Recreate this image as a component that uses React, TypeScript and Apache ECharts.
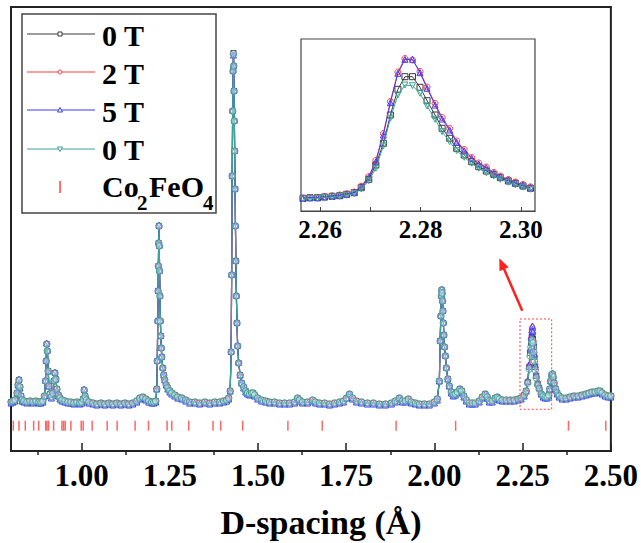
import React, { useEffect, useRef } from "react";
import * as echarts from "echarts";

// ---------- main pattern (d-spacing in Å, intensity in arbitrary units) ----------
const mainD = [
  0.8000,0.8057,0.8113,0.8170,0.8198,0.8226,0.8255,0.8283,0.8311,0.8368,
  0.8453,0.8538,0.8623,0.8707,0.8792,0.8849,0.8905,0.8948,0.8976,0.8996,
  0.9013,0.9033,0.9053,0.9075,0.9104,0.9146,0.9188,0.9217,0.9245,0.9273,
  0.9302,0.9344,0.9387,0.9443,0.9528,0.9613,0.9698,0.9783,0.9868,0.9952,
  1.0009,1.0046,1.0074,1.0102,1.0136,1.0207,1.0320,1.0434,1.0547,1.0660,
  1.0773,1.0886,1.0999,1.1113,1.1226,1.1339,1.1452,1.1565,1.1650,1.1735,
  1.1820,1.1905,1.1990,1.2046,1.2103,1.2131,1.2145,1.2160,1.2168,1.2177,
  1.2185,1.2194,1.2202,1.2211,1.2222,1.2233,1.2245,1.2259,1.2273,1.2301,
  1.2329,1.2358,1.2400,1.2443,1.2499,1.2556,1.2641,1.2726,1.2839,1.2952,
  1.3065,1.3207,1.3348,1.3490,1.3631,1.3772,1.3914,1.4027,1.4112,1.4169,
  1.4211,1.4239,1.4253,1.4268,1.4282,1.4293,1.4304,1.4313,1.4321,1.4330,
  1.4338,1.4350,1.4361,1.4372,1.4387,1.4404,1.4423,1.4452,1.4494,1.4537,
  1.4593,1.4650,1.4706,1.4763,1.4819,1.4862,1.4904,1.4989,1.5102,1.5216,
  1.5329,1.5470,1.5612,1.5753,1.5895,1.6036,1.6121,1.6178,1.6263,1.6404,
  1.6546,1.6630,1.6744,1.6885,1.7027,1.7168,1.7310,1.7423,1.7508,1.7593,
  1.7677,1.7791,1.7932,1.8102,1.8272,1.8441,1.8611,1.8781,1.8894,1.9007,
  1.9092,1.9177,1.9262,1.9347,1.9460,1.9573,1.9715,1.9856,1.9998,2.0082,
  2.0139,2.0162,2.0182,2.0196,2.0207,2.0218,2.0230,2.0241,2.0253,2.0267,
  2.0286,2.0309,2.0337,2.0380,2.0422,2.0479,2.0535,2.0592,2.0649,2.0719,
  2.0776,2.0833,2.0903,2.0988,2.1073,2.1158,2.1271,2.1356,2.1441,2.1497,
  2.1554,2.1639,2.1724,2.1780,2.1837,2.1922,2.2035,2.2148,2.2261,2.2375,
  2.2459,2.2544,2.2601,2.2643,2.2686,2.2714,2.2737,2.2757,2.2776,2.2793,
  2.2813,2.2833,2.2856,2.2884,2.2927,2.2969,2.3026,2.3082,2.3139,2.3195,
  2.3238,2.3266,2.3294,2.3323,2.3345,2.3365,2.3393,2.3436,2.3478,2.3535,
  2.3620,2.3733,2.3846,2.3960,2.4073,2.4186,2.4299,2.4384,2.4469,2.4554,
  2.4638,2.4695,2.4752,2.4837,2.4922,2.5000,
];

const main0T = [
  49,50,51,58,66,71,64,55,51,50,
  49,50,49,50,49,49,50,55,70,90,
  107,100,80,65,57,54,58,70,78,72,
  62,56,53,51,50,49,49,48,49,48,
  49,52,61,55,51,49,48,47,48,47,
  48,47,48,47,48,47,48,50,53,54,
  52,50,49,49,50,62,90,130,160,185,
  208,225,205,180,155,130,115,103,94,83,
  76,71,66,63,60,58,56,54,53,51,
  49,49,48,49,48,49,49,50,51,53,
  60,99,176,275,340,380,398,385,360,330,
  300,262,225,190,155,128,105,88,76,68,
  64,60,58,57,58,58,56,53,51,50,
  49,49,48,48,48,49,53,51,49,49,
  51,49,48,48,47,48,49,50,53,57,
  53,50,49,48,48,47,47,48,50,53,
  50,50,52,49,48,47,47,47,49,52,
  70,110,135,155,161,158,150,140,128,116,
  104,95,83,72,65,59,56,57,59,62,
  60,55,51,48,48,48,50,54,57,54,
  50,50,53,54,52,51,51,51,51,52,
  53,56,60,69,84,98,108,114,116,112,
  104,94,84,75,67,63,57,55,54,54,
  56,62,70,76,77,74,68,62,58,55,
  53,53,54,55,55,56,57,58,59,59,
  60,60,58,56,55,55,
];

const main2T = [
  49,50,51,58,66,71,64,55,51,50,
  49,50,49,50,49,49,50,55,70,90,
  107,100,80,65,57,54,58,70,78,72,
  62,56,53,51,50,49,49,48,49,48,
  49,52,61,55,51,49,48,47,48,47,
  48,47,48,47,48,47,48,50,53,54,
  52,50,49,49,50,62,90,130,160,185,
  208,225,205,180,155,130,115,103,94,83,
  76,71,66,63,60,58,56,54,53,51,
  49,49,48,49,48,49,49,50,51,53,
  60,99,176,275,340,380,396,385,360,330,
  300,262,225,190,155,128,105,88,76,68,
  64,60,58,57,58,58,56,53,51,50,
  49,49,48,48,48,49,53,51,49,49,
  51,49,48,48,47,48,49,50,53,57,
  53,50,49,48,48,47,47,48,50,53,
  50,50,52,49,48,47,47,47,49,52,
  70,110,135,155,161,158,150,140,128,116,
  104,95,83,72,65,59,56,57,59,62,
  60,55,51,48,48,48,50,54,57,54,
  50,50,53,54,52,51,51,51,51,52,
  53,56,60,70,86,101,113,121,124,121,
  110,98,87,77,69,64,58,55,54,54,
  56,62,70,76,77,74,68,62,58,55,
  53,53,54,55,55,56,57,58,59,59,
  60,60,58,56,55,55,
];

const main5T = [
  48,49,50,58,66,72,63,54,50,49,
  48,49,48,49,48,48,49,55,71,91,
  108,101,80,65,56,53,58,71,79,72,
  61,55,52,50,49,48,48,47,48,47,
  48,52,62,55,50,48,47,46,47,46,
  47,46,47,46,47,46,47,49,52,53,
  51,49,48,48,49,62,91,131,161,186,
  209,226,206,181,156,131,116,104,95,84,
  76,71,66,62,59,57,55,53,52,50,
  48,48,47,48,47,48,48,49,50,52,
  60,100,177,276,341,381,396,386,361,331,
  301,263,226,191,156,129,106,89,76,68,
  63,59,57,56,57,57,55,52,50,49,
  48,48,47,47,47,48,52,50,48,48,
  50,48,47,47,46,47,48,49,53,57,
  52,49,48,47,47,46,46,47,49,53,
  49,49,51,48,47,46,46,46,48,51,
  70,111,136,156,162,159,151,141,129,117,
  105,96,84,72,65,58,55,56,58,62,
  59,54,50,47,47,47,49,53,57,53,
  49,49,52,54,51,50,50,50,50,51,
  52,55,60,70,86,102,114,121,125,120,
  109,97,86,77,68,63,57,54,53,53,
  55,62,70,77,78,75,68,61,57,54,
  52,52,53,54,54,55,56,57,58,58,
  59,59,57,55,54,54,
];

const main0Tb = [
  49,50,51,58,66,71,64,55,51,50,
  49,50,49,50,49,49,50,55,70,90,
  107,100,80,65,57,54,58,70,78,72,
  62,56,53,51,50,49,49,48,49,48,
  49,52,61,55,51,49,48,47,48,47,
  48,47,48,47,48,47,48,50,53,54,
  52,50,49,49,50,62,90,130,160,185,
  208,225,205,180,155,130,115,103,94,83,
  76,71,66,63,60,58,56,54,53,51,
  49,49,48,49,48,49,49,50,51,53,
  60,99,176,275,340,380,397,385,360,330,
  300,262,225,190,155,128,105,88,76,68,
  64,60,58,57,58,58,56,53,51,50,
  49,49,48,48,48,49,53,51,49,49,
  51,49,48,48,47,48,49,50,53,57,
  53,50,49,48,48,47,47,48,50,53,
  50,50,52,49,48,47,47,47,49,52,
  70,110,135,155,161,158,150,140,128,116,
  104,95,83,72,65,59,56,57,59,62,
  60,55,51,48,48,48,50,54,57,54,
  50,50,53,54,52,51,51,51,51,52,
  53,56,60,68,82,95,104,109,111,108,
  99,90,81,73,66,62,57,55,54,54,
  56,62,70,76,77,74,68,62,58,55,
  53,53,54,55,55,56,57,58,59,59,
  60,60,58,56,55,55,
];

// Co2FeO4 reflection positions (Å)
const refD = [
  0.8065,0.8226,0.8405,0.8642,0.8784,0.8982,0.9019,0.9067,0.9208,0.9443,
  0.9491,0.9537,0.9698,0.9989,1.0046,1.0301,1.0725,1.1008,1.1517,1.1896,
  1.2423,1.2556,1.3037,1.3725,1.3942,1.4565,1.5847,1.6820,1.8914,2.0600,
  2.3798,2.4856,
];
const refLevel = 25.3;

// ---------- inset (zoom of the 2.28 Å peak) ----------
const inD = [
  2.2566,2.2580,2.2595,2.2609,2.2624,2.2639,2.2653,2.2668,2.2682,2.2697,
  2.2711,2.2726,2.2740,2.2755,2.2769,2.2784,2.2799,2.2813,2.2829,2.2843,
  2.2858,2.2872,2.2887,2.2902,2.2916,2.2931,2.2946,2.2959,2.2975,2.2989,
  2.3004,2.3019,
];
const in0T = [12.7,13.3,13.3,14,14.7,15.3,16.7,18.3,23.3,31.7,46,67.7,96,121.7,134.3,134.3,123.7,110.3,96,82.7,72.7,62.7,56,49.3,44.3,40,36.7,33.3,30,27.7,25,22.7];
const in2T = [13,13.5,13.5,14.5,15.2,16,17.2,19,24.8,34.5,50.5,77.5,109.5,139,152.5,151,139.5,124,107.5,93.5,82.5,70,61.5,53.5,48,44,38.5,35,31.5,29,26.5,24.2];
const in5T = [12.7,13.3,13.3,14.3,15,15.7,17,18.7,24.3,33.7,49.3,76,108.3,137.7,151.7,151.7,138.3,122.7,106,92,81,68.7,60.3,52.7,47,43.3,37.7,34.3,31,28.3,26,23.7];
const in0Tb = [12,12.3,12.7,13.3,14,14.7,15.7,17.3,22,30.3,42.7,65,92.7,116,126,125.3,117.7,105,91.7,79.3,69.3,60.3,53.7,47.7,42.7,38.3,35,31.7,28.7,26,23.7,21.7];

// ---------- ticks / labels ----------
const mainTicks = [1.0, 1.25, 1.5, 1.75, 2.0, 2.25, 2.5];
const mainMinorTicks = [0.875, 1.125, 1.375, 1.625, 1.875, 2.125, 2.375];
const insetTicks = [2.26, 2.27, 2.28, 2.29, 2.3];
const insetLabels = [2.26, 2.28, 2.3];
const legendNames = ["0 T", "2 T", "5 T", "0 T"];
const phaseName = ["Co", "2", "FeO", "4"];
const xTitle = "D-spacing (Å)";

const COLORS = ["#3a3a3a", "#ff3b3b", "#3b3bff", "#3fa397"];
const SYMBOLS = ["rect", "circle", "triangle", "circle"];
const ROTATE = [0, 0, 0, 0];
const IN_SYMBOLS = ["rect", "circle", "triangle", "triangle"];
const IN_ROTATE = [0, 0, 0, 180];
const MAIN_SIZE = [5, 5, 6, 6.5];
const FONT = "'Liberation Serif', 'Times New Roman', serif";

export default function App() {
  const ref = useRef<HTMLDivElement>(null);

  useEffect(() => {
    if (!ref.current) return;
    const chart = echarts.init(ref.current, null, { renderer: "svg" });

    const mainSets = [main0T, main2T, main5T, main0Tb];
    const inSets = [in0T, in2T, in5T, in0Tb];

    const series: any[] = [];
    mainSets.forEach((arr, k) => {
      series.push({
        type: "line",
        name: legendNames[k],
        xAxisIndex: 0,
        yAxisIndex: 0,
        data: mainD.map((d, i) => [d, arr[i]]),
        symbol: SYMBOLS[k],
        symbolRotate: ROTATE[k],
        symbolSize: MAIN_SIZE[k],
        showAllSymbol: true,
        lineStyle: { color: COLORS[k], width: 1.2 },
        itemStyle: { color: "rgba(255,255,255,0.35)", borderColor: COLORS[k], borderWidth: 1 },
        silent: true,
        emphasis: { disabled: true },
        z: 2 + k,
      });
    });
    series.push({
      type: "scatter",
      name: "Co2FeO4",
      xAxisIndex: 0,
      yAxisIndex: 0,
      data: refD.map((d) => [d, refLevel]),
      symbol: "rect",
      symbolSize: [1.5, 10],
      itemStyle: { color: "#ff4040" },
      silent: true,
      z: 8,
    });
    inSets.forEach((arr, k) => {
      series.push({
        type: "line",
        name: "inset " + legendNames[k],
        xAxisIndex: 2,
        yAxisIndex: 1,
        data: inD.map((d, i) => [d, arr[i]]),
        symbol: IN_SYMBOLS[k],
        symbolRotate: IN_ROTATE[k],
        symbolSize: 6,
        showAllSymbol: true,
        lineStyle: { color: COLORS[k], width: 1 },
        itemStyle: { color: "rgba(255,255,255,0)", borderColor: COLORS[k], borderWidth: 1 },
        silent: true,
        emphasis: { disabled: true },
        z: 12 + k,
      });
    });

    const legendGraphics: any[] = [
      {
        type: "rect",
        shape: { x: 22, y: 14, width: 194, height: 199 },
        style: { fill: "#fff", stroke: "#444", lineWidth: 1.5 },
        z: 50,
      },
    ];
    const lineY = [34, 72, 110, 149];
    const textY = [35.5, 73, 111.5, 149.5];
    legendNames.forEach((nm, k) => {
      legendGraphics.push({
        type: "line",
        shape: { x1: 27, y1: lineY[k], x2: 95, y2: lineY[k] },
        style: { stroke: COLORS[k], lineWidth: 1 },
        z: 51,
      });
      let mk: any;
      if (k === 0) mk = { type: "rect", shape: { x: 58, y: lineY[k] - 2, width: 4, height: 4 } };
      else if (k === 1) mk = { type: "circle", shape: { cx: 60, cy: lineY[k], r: 2 } };
      else if (k === 2)
        mk = { type: "polygon", shape: { points: [[60, lineY[k] - 2.5], [57.5, lineY[k] + 2], [62.5, lineY[k] + 2]] } };
      else
        mk = { type: "polygon", shape: { points: [[60, lineY[k] + 2.5], [57.5, lineY[k] - 2], [62.5, lineY[k] - 2]] } };
      mk.style = { fill: "#fff", stroke: COLORS[k], lineWidth: 1 };
      mk.z = 52;
      legendGraphics.push(mk);
      legendGraphics.push({
        type: "text",
        x: 102,
        y: textY[k],
        style: { text: nm, font: `bold 30px ${FONT}`, fill: "#000", verticalAlign: "middle" },
        z: 52,
      });
    });
    legendGraphics.push({
      type: "rect",
      shape: { x: 59.3, y: 181, width: 1.5, height: 12 },
      style: { fill: "#ff4040" },
      z: 52,
    });
    const phaseX = [102, 137, 149, 203];
    const phaseY = [186.7, 203.3, 186.7, 203.3];
    const phaseSize = [30, 21, 30, 21];
    phaseName.forEach((t, k) => {
      legendGraphics.push({
        type: "text",
        x: phaseX[k],
        y: phaseY[k],
        style: { text: t, font: `bold ${phaseSize[k]}px ${FONT}`, fill: "#000", verticalAlign: "middle" },
        z: 52,
      });
    });

    const option: any = {
      animation: false,
      backgroundColor: "#fff",
      grid: [
        { left: 11, top: 7, width: 601, height: 444, show: true, borderColor: "#222", borderWidth: 2, backgroundColor: "transparent" },
        { left: 301, top: 39, width: 234, height: 172, show: true, borderColor: "#444", borderWidth: 1.2, backgroundColor: "#fff", z: 10 },
      ],
      xAxis: [
        {
          type: "value",
          gridIndex: 0,
          min: 0.8,
          max: 2.5,
          axisLine: { show: true, onZero: false, lineStyle: { color: "#222", width: 2 } },
          axisTick: { show: true, inside: true, length: 8, customValues: mainTicks, lineStyle: { color: "#222", width: 1.5 } },
          axisLabel: {
            show: true,
            customValues: mainTicks,
            formatter: (v: number) => v.toFixed(2),
            fontFamily: FONT,
            fontWeight: "bold",
            fontSize: 31,
            color: "#000",
            margin: 9,
          },
          splitLine: { show: false },
        },
        {
          type: "value",
          gridIndex: 0,
          min: 0.8,
          max: 2.5,
          axisLine: { show: false },
          axisTick: { show: true, inside: true, length: 4, customValues: mainMinorTicks, lineStyle: { color: "#222", width: 1.5 } },
          axisLabel: { show: false },
          splitLine: { show: false },
        },
        {
          type: "value",
          gridIndex: 1,
          min: 2.2562,
          max: 2.3028,
          axisLine: { show: true, onZero: false, lineStyle: { color: "#444", width: 1.2 } },
          axisTick: { show: true, inside: true, length: 4, customValues: insetTicks, lineStyle: { color: "#444", width: 1 } },
          axisLabel: {
            show: true,
            customValues: insetLabels,
            formatter: (v: number) => v.toFixed(2),
            fontFamily: FONT,
            fontWeight: "bold",
            fontSize: 25,
            color: "#000",
            margin: 6,
          },
          splitLine: { show: false },
          z: 20,
        },
      ],
      yAxis: [
        {
          type: "value",
          gridIndex: 0,
          min: 0,
          max: 444,
          axisLine: { show: true, lineStyle: { color: "#222", width: 2 } },
          axisTick: { show: false },
          axisLabel: { show: false },
          splitLine: { show: false },
        },
        {
          type: "value",
          gridIndex: 1,
          min: 0,
          max: 172,
          axisLine: { show: false },
          axisTick: { show: false },
          axisLabel: { show: false },
          splitLine: { show: false },
        },
      ],
      series,
      graphic: [
        ...legendGraphics,
        {
          type: "rect",
          shape: { x: 520, y: 319, width: 31.7, height: 90.3 },
          style: { fill: "none", stroke: "#ff4040", lineWidth: 1, lineDash: [2, 2] },
          z: 30,
        },
        {
          type: "line",
          shape: { x1: 522.3, y1: 310.7, x2: 503.5, y2: 267.8 },
          style: { stroke: "#ff2020", lineWidth: 2.5 },
          z: 30,
        },
        {
          type: "polygon",
          shape: { points: [[499.3, 258.3], [508.7, 267.3], [499.5, 271.3]] },
          style: { fill: "#ff2020" },
          z: 30,
        },
        {
          type: "text",
          x: 321,
          y: 522.5,
          style: { text: xTitle, font: `bold 34px ${FONT}`, fill: "#000", align: "center", verticalAlign: "middle" },
          z: 30,
        },
      ],
    };

    chart.setOption(option);
    return () => chart.dispose();
  }, []);

  return (
    <div
      ref={ref}
      style={{ position: "absolute", left: 0, top: 0, width: 641, height: 543, background: "#fff" }}
    />
  );
}
